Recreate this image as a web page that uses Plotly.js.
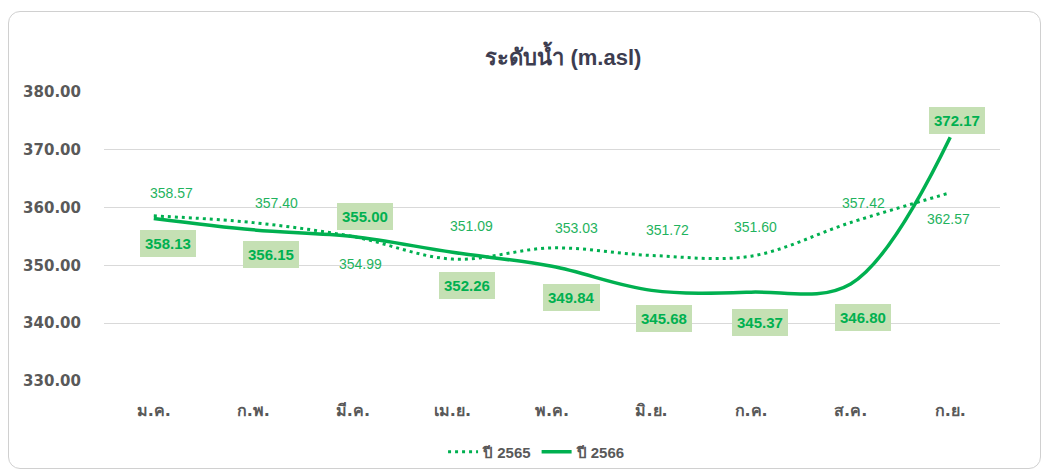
<!DOCTYPE html>
<html>
<head>
<meta charset="utf-8">
<script src="https://cdn.plot.ly/plotly-3.0.1.min.js"></script>
<style>
  html, body { margin: 0; padding: 0; background: #ffffff; }
  #wrap { position: relative; width: 1051px; height: 471px; }
  #chart { position: absolute; left: 0; top: 0; width: 1051px; height: 471px; }
  #frame { position: absolute; left: 8px; top: 11px; width: 1031px; height: 456px;
           border: 1px solid #d0d0d0; border-radius: 12px; pointer-events: none; }
</style>
</head>
<body>
<div id="wrap">
  <div id="chart"></div>
  <div id="frame"></div>
</div>
<script>
// ---- data ----
const months = ['ม.ค.', 'ก.พ.', 'มี.ค.', 'เม.ย.', 'พ.ค.', 'มิ.ย.', 'ก.ค.', 'ส.ค.', 'ก.ย.'];
const level2565 = [358.57, 357.40, 354.99, 351.09, 353.03, 351.72, 351.60, 357.42, 362.57];
const level2566 = [358.13, 356.15, 355.00, 352.26, 349.84, 345.68, 345.37, 346.80, 372.17];
const seriesNames = ['ปี 2565', 'ปี 2566'];
const yTicks = [330, 340, 350, 360, 370, 380];

// ---- label placement (pixel offsets, styling only) ----
const lab2565dx = [18, 23, 8, 19, 24, 16, 4, 13, -2];
const lab2565dy = [23, 20, -27, 33, 20, 25, 29, 20, -26];
const lab2566dx = [14, 18, 12, 15, 19, 12, 9, 12, 7];
const lab2566dy = [-25, -25, 20, -33, -31, -28, -30, -34, 17];

const green = '#00b050';
const font = '"Liberation Sans", Arial, "Noto Sans", sans-serif';
const tickFont = '"DejaVu Sans", "Noto Sans", sans-serif';

const traces = [
  { x: months, y: level2565, name: seriesNames[0], type: 'scatter', mode: 'lines',
    line: { color: green, width: 3, dash: '3px,4px', shape: 'spline', smoothing: 1 } },
  { x: months, y: level2566, name: seriesNames[1], type: 'scatter', mode: 'lines',
    line: { color: green, width: 3.5, shape: 'spline', smoothing: 1 } }
];

const annotations = [];
level2565.forEach((v, i) => {
  annotations.push({ x: months[i], y: v, xref: 'x', yref: 'y', text: v.toFixed(2),
    showarrow: false, xshift: lab2565dx[i], yshift: lab2565dy[i],
    font: { family: font, size: 14, color: '#1fb35e' } });
});
level2566.forEach((v, i) => {
  annotations.push({ x: months[i], y: v, xref: 'x', yref: 'y', text: '<b>' + v.toFixed(2) + '</b>',
    showarrow: false, xshift: lab2566dx[i], yshift: lab2566dy[i],
    bgcolor: '#c5e0b4', borderpad: 5, borderwidth: 0,
    font: { family: font, size: 15, color: green } });
});

const layout = {
  width: 1051, height: 471,
  margin: { l: 104, r: 51, t: 92, b: 90 },
  paper_bgcolor: '#ffffff', plot_bgcolor: '#ffffff',
  showlegend: true,
  title: { text: '<b>ระดับน้ำ (m.asl)</b>', x: 0.536, xref: 'container', xanchor: 'center',
           y: 0.879, yref: 'container', yanchor: 'middle',
           font: { family: font, size: 22, color: '#3d3d50' } },
  xaxis: { type: 'category', range: [-0.5, 8.5], automargin: false,
           showgrid: false, zeroline: false, showline: false, ticks: '',
           ticklabelstandoff: 18,
           tickfont: { family: tickFont, size: 16, color: '#595959', weight: 'bold' } },
  yaxis: { range: [330, 380], tickvals: yTicks, ticktext: yTicks.map(t => t.toFixed(2)),
           automargin: false,
           showgrid: true, gridcolor: '#d9d9d9', gridwidth: 1, zeroline: false, showline: false,
           ticks: '', ticklabelstandoff: 22,
           tickfont: { family: tickFont, size: 15, color: '#595959', weight: 'bold' } },
  legend: { orientation: 'h', x: 0.511, xref: 'container', xanchor: 'center',
            y: 0.0403, yref: 'container', yanchor: 'middle',
            font: { family: font, size: 15, color: '#595959', weight: 'bold' },
            itemwidth: 30, tracegroupgap: 0 },
  annotations: annotations
};

Plotly.newPlot('chart', traces, layout, { displayModeBar: false, staticPlot: true });
</script>
</body>
</html>
